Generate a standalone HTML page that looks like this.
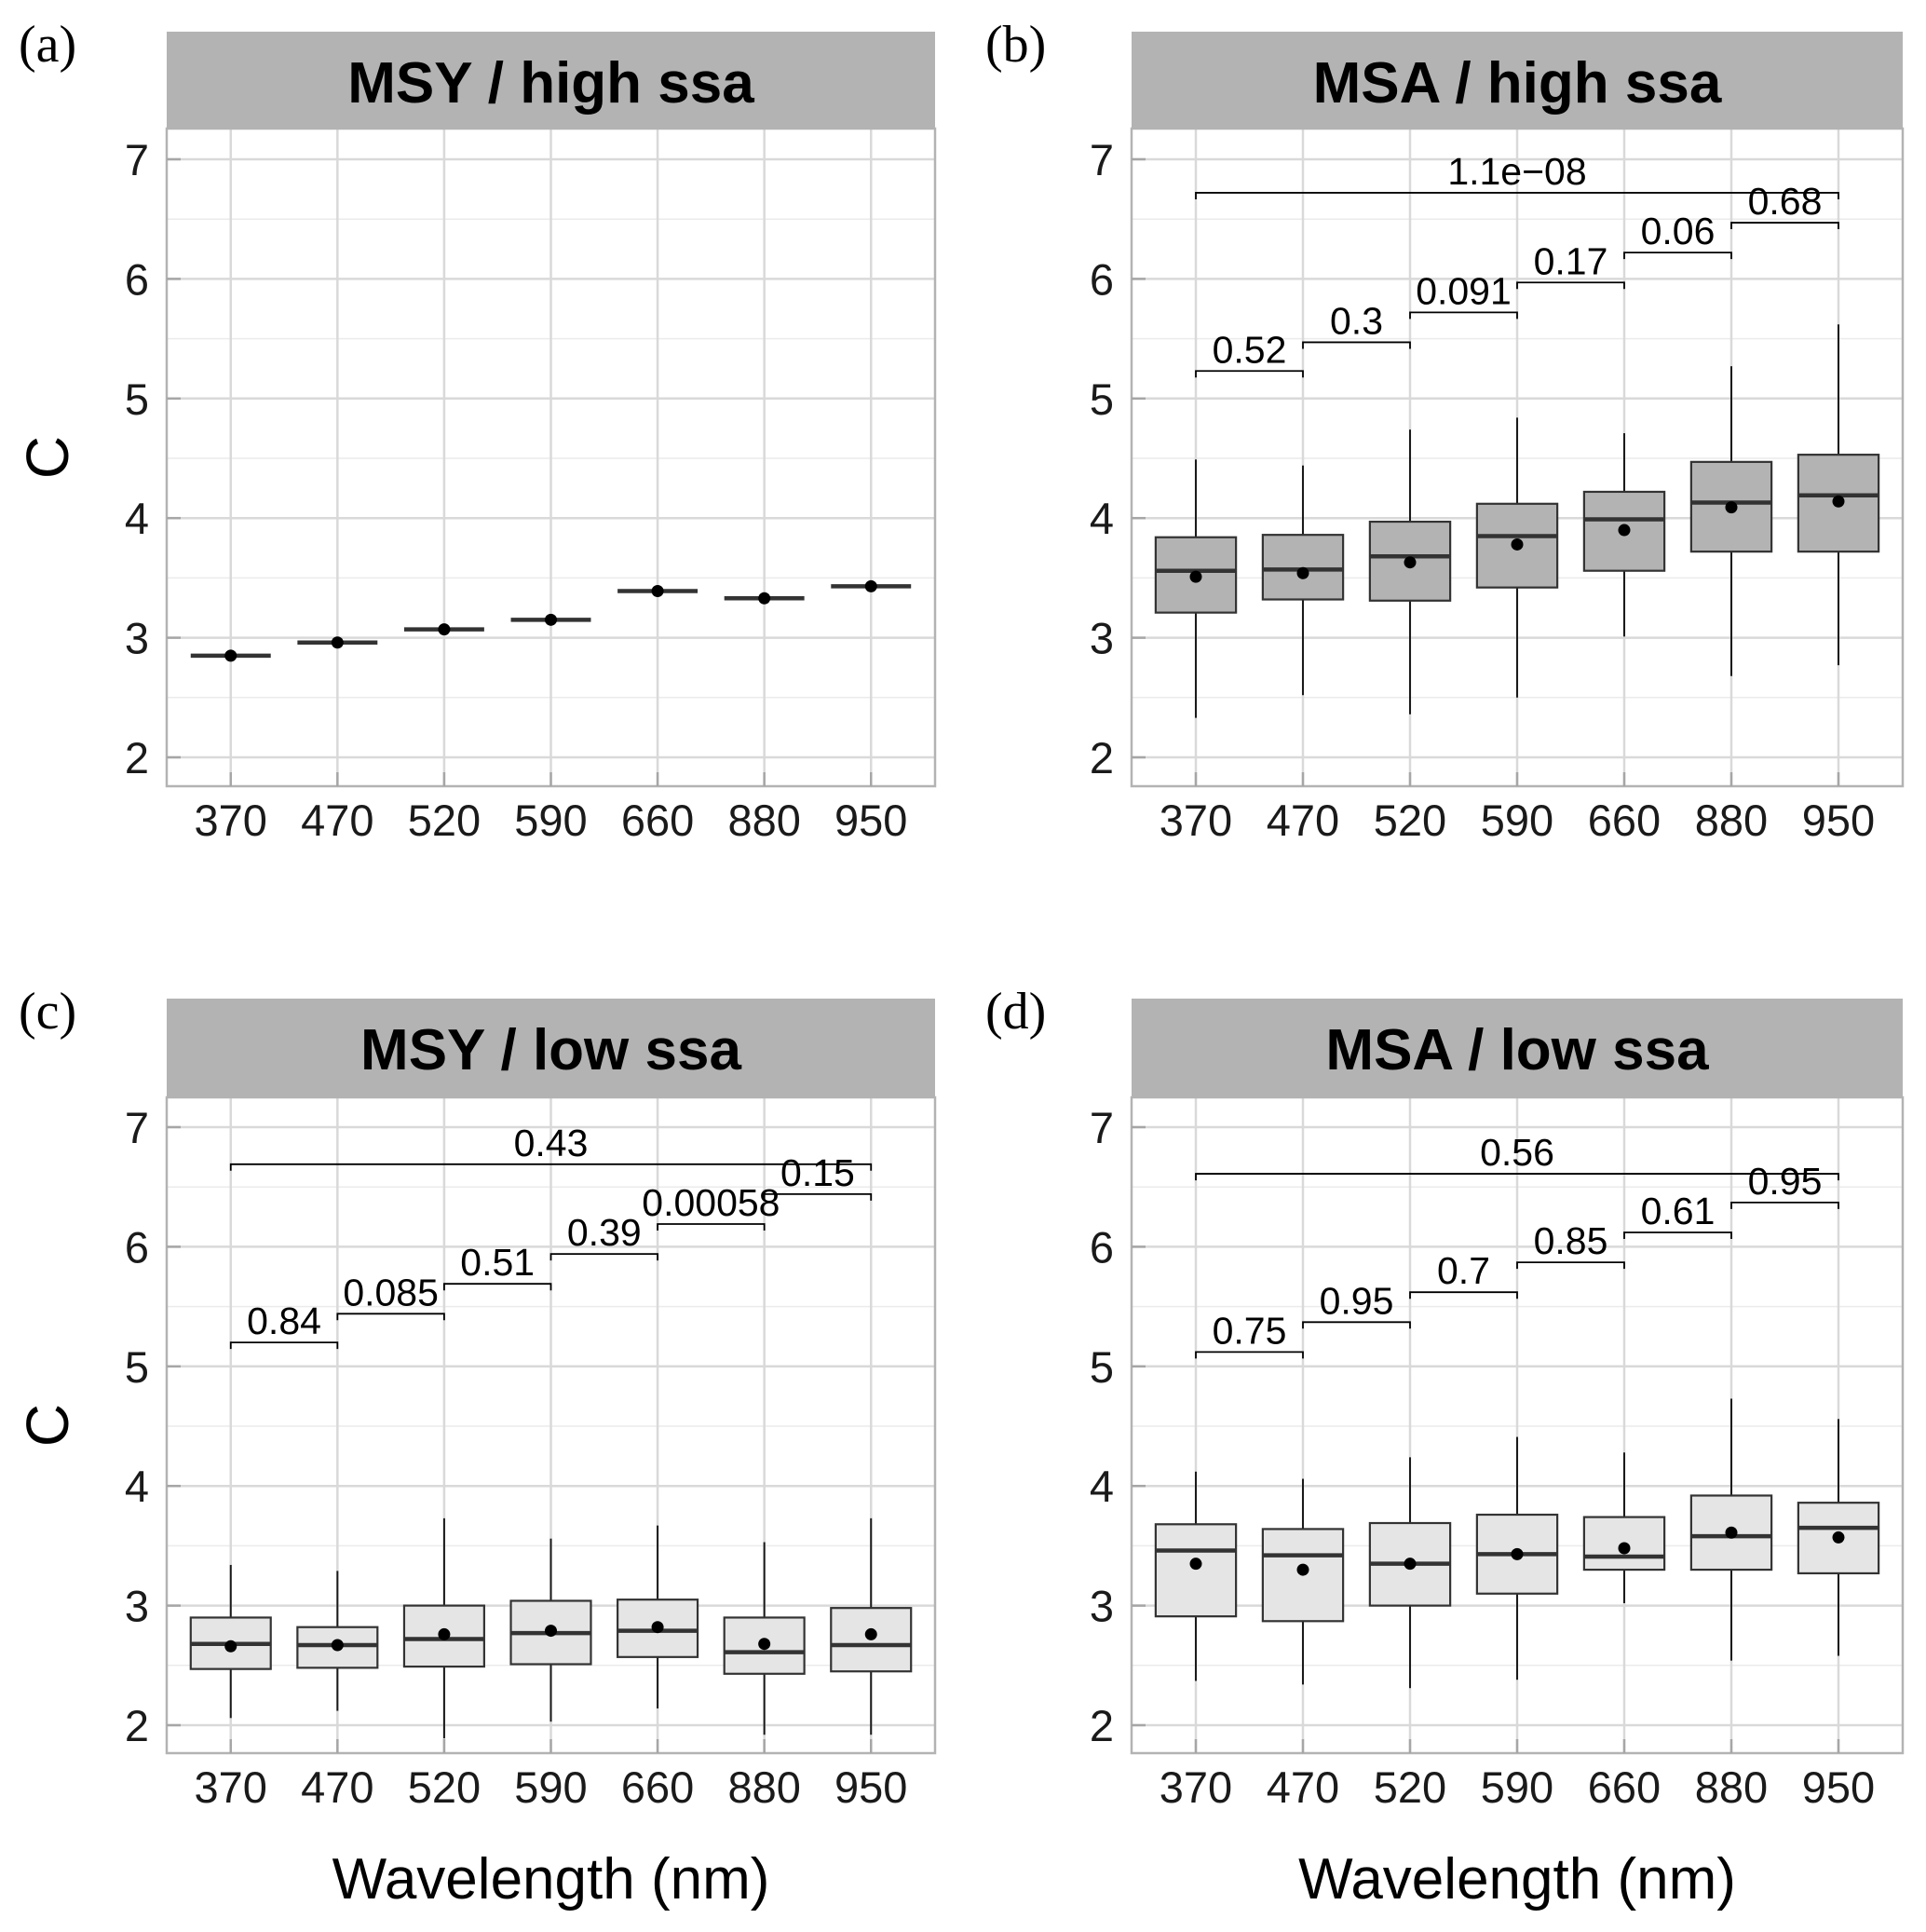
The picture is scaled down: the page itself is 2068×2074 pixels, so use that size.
<!DOCTYPE html>
<html><head><meta charset="utf-8"><style>
html,body{margin:0;padding:0;background:#fff;}
svg{display:block;font-family:"Liberation Sans",sans-serif;}
</style></head><body>
<svg id="fig" width="2068" height="2074" viewBox="0 0 2068 2074" xmlns="http://www.w3.org/2000/svg"></svg>
<script>
const categories = ["370","470","520","590","660","880","950"];
const yTicks = [2,3,4,5,6,7];
// panel b: MSA / high ssa
const bLow  = [2.33,2.52,2.36,2.50,3.01,2.68,2.77];
const bQ1   = [3.21,3.32,3.31,3.42,3.56,3.72,3.72];
const bMed  = [3.56,3.57,3.68,3.85,3.99,4.13,4.19];
const bQ3   = [3.84,3.86,3.97,4.12,4.22,4.47,4.53];
const bHigh = [4.49,4.44,4.74,4.84,4.71,5.27,5.62];
const bMean = [3.51,3.54,3.63,3.78,3.90,4.09,4.14];
const bPLabels = ["0.52","0.3","0.091","0.17","0.06","0.68","1.1e\u221208"];
const bPY = [5.23,5.47,5.72,5.97,6.22,6.47,6.72];
// panel a: MSY / high ssa
const aMed  = [2.85,2.96,3.07,3.15,3.39,3.33,3.43];
const aMean = [2.85,2.96,3.07,3.15,3.39,3.33,3.43];
// panel c: MSY / low ssa
const cLow  = [2.06,2.12,1.89,2.03,2.14,1.92,1.92];
const cQ1   = [2.47,2.48,2.49,2.51,2.57,2.43,2.45];
const cMed  = [2.68,2.67,2.72,2.77,2.79,2.61,2.67];
const cQ3   = [2.90,2.82,3.00,3.04,3.05,2.90,2.98];
const cHigh = [3.34,3.29,3.73,3.56,3.67,3.53,3.73];
const cMean = [2.66,2.67,2.76,2.79,2.82,2.68,2.76];
const cPLabels = ["0.84","0.085","0.51","0.39","0.00058","0.15","0.43"];
const cPY = [5.20,5.44,5.69,5.94,6.19,6.44,6.69];
// panel d: MSA / low ssa
const dLow  = [2.37,2.34,2.31,2.38,3.02,2.54,2.58];
const dQ1   = [2.91,2.87,3.00,3.10,3.30,3.30,3.27];
const dMed  = [3.46,3.42,3.35,3.43,3.41,3.58,3.65];
const dQ3   = [3.68,3.64,3.69,3.76,3.74,3.92,3.86];
const dHigh = [4.12,4.06,4.24,4.41,4.28,4.73,4.56];
const dMean = [3.35,3.30,3.35,3.43,3.48,3.61,3.57];
const dPLabels = ["0.75","0.95","0.7","0.85","0.61","0.95","0.56"];
const dPY = [5.12,5.37,5.62,5.87,6.12,6.37,6.61];

const NS="http://www.w3.org/2000/svg";
const svg=document.getElementById('fig');
function mk(tag,attrs,parent,text){const e=document.createElementNS(NS,tag);for(const k in attrs)e.setAttribute(k,attrs[k]);if(text!==undefined)e.textContent=text;(parent||svg).appendChild(e);return e;}

const panels=[
 {id:'a',title:'MSY / high ssa',x0:179,x1:1004,sy:34,py0:138,py1:844,y2:813,lx:20,ly:66,fill:'#b3b3b3',med:aMed,mean:aMean,flat:true,yt:true,xt:false},
 {id:'b',title:'MSA / high ssa',x0:1215,x1:2043,sy:34,py0:138,py1:844,y2:813,lx:1058,ly:66,fill:'#b3b3b3',low:bLow,q1:bQ1,med:bMed,q3:bQ3,high:bHigh,mean:bMean,pl:bPLabels,py:bPY,yt:false,xt:false},
 {id:'c',title:'MSY / low ssa',x0:179,x1:1004,sy:1072,py0:1178,py1:1882,y2:1852,lx:20,ly:1104,fill:'#e5e5e5',low:cLow,q1:cQ1,med:cMed,q3:cQ3,high:cHigh,mean:cMean,pl:cPLabels,py:cPY,yt:true,xt:true},
 {id:'d',title:'MSA / low ssa',x0:1215,x1:2043,sy:1072,py0:1178,py1:1882,y2:1852,lx:1058,ly:1104,fill:'#e5e5e5',low:dLow,q1:dQ1,med:dMed,q3:dQ3,high:dHigh,mean:dMean,pl:dPLabels,py:dPY,yt:false,xt:true}
];

panels.forEach(p=>{
  const g=mk('g',{});
  
  
  const unit=128.4;
  const Y=v=>p.y2-(v-2)*unit;
  const bw=(p.x1-p.x0)/7.2;
  const X=i=>p.x0+bw*(0.6+i);
  const lab=mk('text',{x:p.lx,y:p.ly,'font-family':'"Liberation Serif",serif','font-size':56,fill:'#000'},g,'('+p.id+')');
  
  
  const strip=mk('rect',{x:p.x0,y:p.sy,width:p.x1-p.x0,height:p.py0-p.sy,fill:'#b3b3b3'},g);
  
  
  const st=mk('text',{x:(p.x0+p.x1)/2,y:p.sy+76,'text-anchor':'middle','font-size':62,'font-weight':'bold',fill:'#000'},g,p.title);
  
  
  for(let v=2.5;v<7.3;v+=1) mk('line',{x1:p.x0,x2:p.x1,y1:Y(v),y2:Y(v),stroke:'#ebebeb','stroke-width':1.5},g);
  yTicks.forEach(v=>{mk('line',{x1:p.x0,x2:p.x1,y1:Y(v),y2:Y(v),stroke:'#d9d9d9','stroke-width':2.5},g);});
  categories.forEach((c,i)=>mk('line',{x1:X(i),x2:X(i),y1:p.py0,y2:p.py1,stroke:'#d9d9d9','stroke-width':2.5},g));
  mk('rect',{x:p.x0,y:p.py0,width:p.x1-p.x0,height:p.py1-p.py0,fill:'none',stroke:'#b3b3b3','stroke-width':2.5},g);
  yTicks.forEach(v=>{
    mk('line',{x1:p.x0,x2:p.x0+15,y1:Y(v),y2:Y(v),stroke:'#a6a6a6','stroke-width':2.5},g);
    const t=mk('text',{x:p.x0-19,y:Y(v)+17,'text-anchor':'end','font-size':47,fill:'#1a1a1a'},g,String(v));
    
    
  });
  categories.forEach((c,i)=>{
    mk('line',{x1:X(i),x2:X(i),y1:p.py1-15,y2:p.py1,stroke:'#a6a6a6','stroke-width':2.5},g);
    const t=mk('text',{x:X(i),y:p.py1+53,'text-anchor':'middle','font-size':47,fill:'#1a1a1a'},g,c);
    
    
  });
  categories.forEach((c,i)=>{
    const bx=X(i)-bw*0.375, w=bw*0.75;
    const bg=mk('g',{},g);
    
    
    if(p.flat){
      mk('line',{x1:bx,x2:bx+w,y1:Y(p.med[i]),y2:Y(p.med[i]),stroke:'#333','stroke-width':4.5},bg);
    } else {
      mk('line',{x1:X(i),x2:X(i),y1:Y(p.high[i]),y2:Y(p.q3[i]),stroke:'#1a1a1a','stroke-width':2},bg);
      mk('line',{x1:X(i),x2:X(i),y1:Y(p.q1[i]),y2:Y(p.low[i]),stroke:'#1a1a1a','stroke-width':2},bg);
      mk('rect',{x:bx,y:Y(p.q3[i]),width:w,height:Y(p.q1[i])-Y(p.q3[i]),fill:p.fill,stroke:'#333','stroke-width':2.2},bg);
      mk('line',{x1:bx,x2:bx+w,y1:Y(p.med[i]),y2:Y(p.med[i]),stroke:'#333','stroke-width':4.5},bg);
    }
    mk('circle',{cx:X(i),cy:Y(p.mean[i]),r:6.5,fill:'#000'},bg);
  });
  if(p.pl){
    p.pl.forEach((l,k)=>{
      const i0=k<6?k:0, i1=k<6?k+1:6;
      const yy=Y(p.py[k]);
      const br=mk('g',{},g);
      
      
      mk('path',{d:`M${X(i0)} ${yy+7}V${yy}H${X(i1)}V${yy+7}`,fill:'none',stroke:'#000','stroke-width':1.8},br);
      mk('text',{x:(X(i0)+X(i1))/2,y:yy-9,'text-anchor':'middle','font-size':41,fill:'#000'},br,l);
    });
  }
  if(p.yt){
    const cy=(p.py0+p.py1)/2;
    const t=mk('text',{x:0,y:0,transform:`translate(73 ${cy}) rotate(-90)`,'text-anchor':'middle','font-size':64,fill:'#000'},g,'C');
    
    
  }
  if(p.xt){
    const t=mk('text',{x:(p.x0+p.x1)/2,y:2038,'text-anchor':'middle','font-size':62,fill:'#000'},g,'Wavelength (nm)');
    
    
  }
});
</script>
</body></html>
